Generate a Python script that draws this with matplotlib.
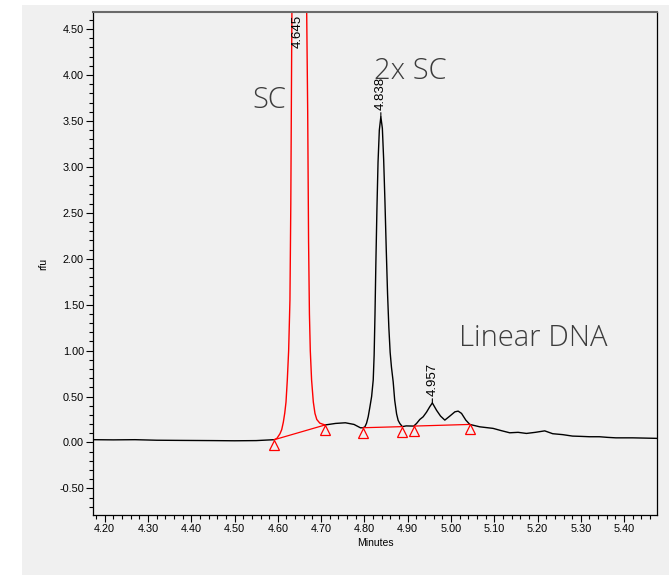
import numpy as np
import matplotlib
matplotlib.use("Agg")
import matplotlib.pyplot as plt
import matplotlib.transforms as mtransforms
from matplotlib.patches import Rectangle
from matplotlib.ticker import MultipleLocator, FormatStrFormatter

# electropherogram trace (minutes, rfu)
base_left_t = [4.17, 4.22, 4.27, 4.32, 4.38, 4.45, 4.50, 4.55, 4.592]
base_left_y = [0.030, 0.028, 0.030, 0.024, 0.022, 0.020, 0.018, 0.020, 0.030]

sc_t = [4.592, 4.598, 4.605, 4.609, 4.6127, 4.616, 4.6189, 4.6219, 4.625, 4.628,
        4.630, 4.632, 4.635, 4.640, 4.645, 4.652, 4.660, 4.666, 4.669, 4.671,
        4.673, 4.675, 4.678, 4.682, 4.6858, 4.690, 4.697, 4.709]
sc_y = [0.030, 0.045, 0.095, 0.14, 0.22, 0.32, 0.44, 0.68, 1.0, 1.55,
        2.6, 4.3, 6.4, 7.6, 7.8, 7.3, 6.3, 5.0, 3.6, 2.2,
        1.4, 1.0, 0.68, 0.44, 0.316, 0.25, 0.21, 0.19]

rest_t = [4.709, 4.7335, 4.756, 4.776, 4.791, 4.797, 4.8012, 4.805, 4.8088, 4.8125,
          4.8167, 4.8204, 4.8225, 4.8245, 4.8265, 4.829, 4.8315, 4.8345, 4.838, 4.8415,
          4.8445, 4.8475, 4.8505, 4.8535, 4.8565, 4.8595, 4.8625, 4.8665, 4.870, 4.8744,
          4.878, 4.882, 4.8877, 4.8965, 4.914, 4.9206, 4.928, 4.9357, 4.9436, 4.9512,
          4.957, 4.9667, 4.9759, 4.9858, 4.9974, 5.009, 5.0166, 5.0244, 5.0343, 5.0435,
          5.0666, 5.0973, 5.115, 5.1358, 5.155, 5.1744, 5.195, 5.2166, 5.235, 5.258,
          5.281, 5.30, 5.32, 5.343, 5.362, 5.381, 5.42, 5.45, 5.478]
rest_y = [0.19, 0.207, 0.214, 0.196, 0.159, 0.16, 0.17, 0.21, 0.28, 0.38,
          0.50, 0.68, 0.95, 1.40, 1.95, 2.55, 3.05, 3.40, 3.545, 3.42,
          3.08, 2.62, 2.10, 1.62, 1.25, 0.98, 0.82, 0.66, 0.46, 0.31,
          0.24, 0.205, 0.172, 0.18, 0.178, 0.207, 0.25, 0.279, 0.33, 0.39,
          0.43, 0.35, 0.287, 0.243, 0.287, 0.333, 0.341, 0.316, 0.243, 0.196,
          0.17, 0.153, 0.13, 0.105, 0.11, 0.098, 0.11, 0.126, 0.095, 0.085,
          0.069, 0.066, 0.062, 0.062, 0.055, 0.05, 0.05, 0.047, 0.044]

# integration baseline points
bl_t = [4.592, 4.709, 4.797, 4.8877, 4.914, 5.0435]
bl_y = [0.030, 0.19, 0.16, 0.172, 0.178, 0.196]
bl_segments = [(0, 1), (2, 3), (4, 5)]

# labelled peaks
peak_t = [4.645, 4.838, 4.957]
peak_y = [7.8, 3.545, 0.43]

xmin, xmax = 4.173, 5.476
ymin, ymax = -0.79, 4.686

W, H = 669, 575
fig = plt.figure(figsize=(W / 100, H / 100), dpi=100)
fig.patch.set_facecolor("white")
fig.patches.append(Rectangle((22 / W, 0), 1 - 22 / W, 1 - 5 / H, transform=fig.transFigure,
                             facecolor="#f0f0f0", edgecolor="none", zorder=-10))

ax = fig.add_axes([93 / W, 1 - 515 / H, (657 - 93) / W, (515 - 12) / H])
ax.set_facecolor("#f0f0f0")

ax.plot(base_left_t, base_left_y, color="black", lw=1.0)
ax.plot(rest_t, rest_y, color="black", lw=1.0)
ax.plot(sc_t, sc_y, color="red", lw=1.0)

for a, b in bl_segments:
    ax.plot([bl_t[a], bl_t[b]], [bl_y[a], bl_y[b]], color="red", lw=0.9)
tri = mtransforms.offset_copy(ax.transData, fig=fig, x=0, y=-5, units="dots")
ax.plot(bl_t, bl_y, ls="none", marker="^", ms=7, mfc="none", mec="red", mew=0.9,
        transform=tri, clip_on=False)

lab_font = ["Liberation Sans", "DejaVu Sans"]
for t, y in zip(peak_t, peak_y):
    if y > ymax:
        ax.annotate(f"{t:.3f}", xy=(t, ymax), xytext=(0, -2), textcoords="offset points",
                    rotation=90, ha="center", va="top", fontsize=9.5, family=lab_font)
    else:
        ax.annotate(f"{t:.3f}", xy=(t, y), xytext=(0, 5), textcoords="offset points",
                    rotation=90, ha="center", va="bottom", fontsize=9.5, family=lab_font,
                    arrowprops=dict(arrowstyle="-", color="black", lw=0.8,
                                    shrinkA=0, shrinkB=0))

big = dict(fontsize=21, color="#3c3c3c", family=["Open Sans", "DejaVu Sans"],
           fontweight="light", ha="center", va="center")
ax.text(4.581, 3.72, "SC", **big)
ax.text(4.905, 4.045, "2x SC", **big)
ax.text(5.190, 1.131, "Linear DNA", **big)

ax.set_xlim(xmin, xmax)
ax.set_ylim(ymin, ymax)
ax.xaxis.set_major_locator(MultipleLocator(0.1))
ax.xaxis.set_minor_locator(MultipleLocator(0.02))
ax.yaxis.set_major_locator(MultipleLocator(0.5))
ax.yaxis.set_minor_locator(MultipleLocator(0.1))
ax.xaxis.set_major_formatter(FormatStrFormatter("%.2f"))
ax.yaxis.set_major_formatter(FormatStrFormatter("%.2f"))
ax.tick_params(which="major", direction="out", length=5, width=0.8, labelsize=7.8, pad=1.5)
ax.tick_params(which="minor", direction="out", length=3, width=0.8)
for lab in ax.get_xticklabels() + ax.get_yticklabels():
    lab.set_family(lab_font)

ax.set_xlabel("Minutes", fontsize=7.5, family=lab_font, labelpad=3)
ax.set_ylabel("rfu", fontsize=7.5, family=lab_font, labelpad=8)

ax.spines["top"].set_color("#6a6a6a")
ax.spines["top"].set_linewidth(1.5)
for s in ("left", "right", "bottom"):
    ax.spines[s].set_color("black")
    ax.spines[s].set_linewidth(0.9)

fig.savefig("out.png", dpi=100)
